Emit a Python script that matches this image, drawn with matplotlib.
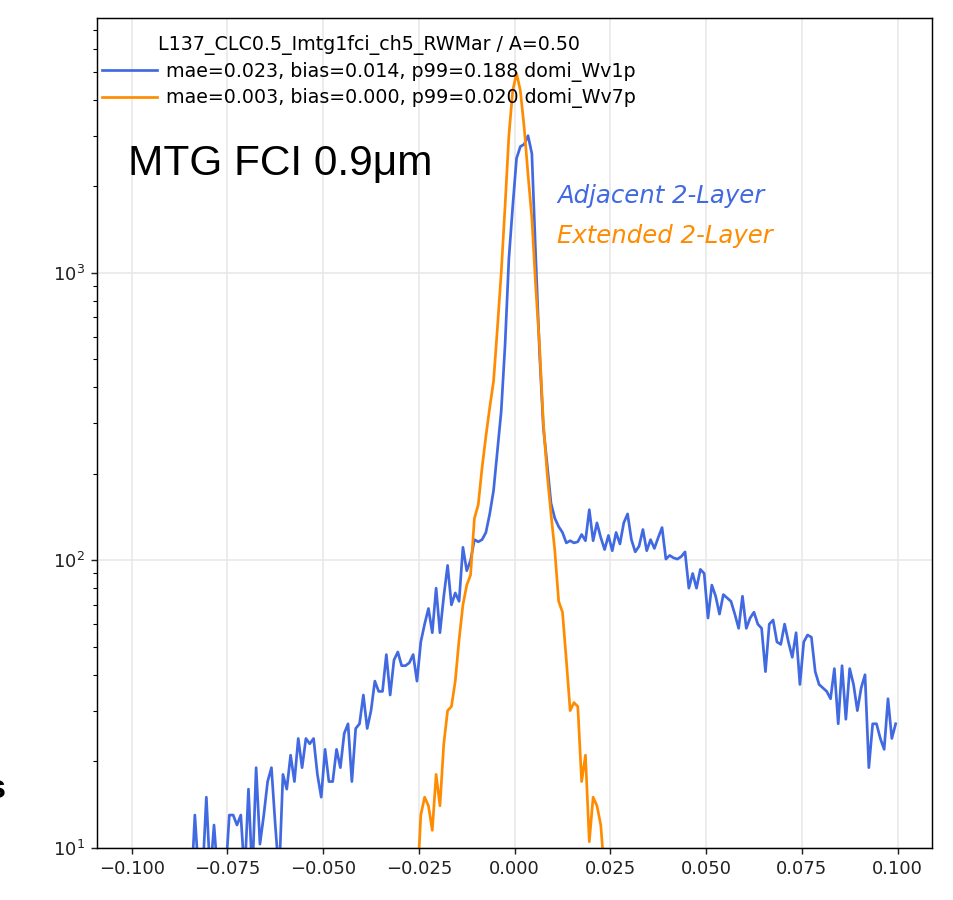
import numpy as np
import matplotlib.pyplot as plt

# bin centres of the histogram (-0.0995 ... 0.0995, step 0.001)
x = np.arange(200) * 0.001 - 0.0995

blue = [
    4, 5, 3, 6, 4, 5, 3, 7, 5, 6,
    4, 7, 5, 6, 5, 7, 13, 8, 8, 15,
    8, 12, 8, 7, 8, 13, 13, 12, 13, 8,
    16, 8, 19, 10.3, 13, 17, 19, 12, 8, 18,
    16, 21, 17, 24, 19, 24, 23, 24, 18, 15,
    22, 17, 17, 22, 19, 25, 27, 17, 26, 27,
    34, 26, 30, 38, 35, 35, 47, 34, 45, 48,
    43, 43, 44, 47, 38, 52, 60, 68, 56, 80,
    56, 75, 96, 70, 77, 72, 111, 92, 100, 118,
    116, 118, 125, 145, 175, 240, 330, 560, 1120, 1700,
    2500, 2750, 2800, 3000, 2600, 1150, 530, 290, 215, 158,
    140, 131, 125, 115, 117, 115, 116, 123, 117, 150,
    117, 135, 120, 109, 122, 108, 125, 114, 135, 145,
    118, 107, 112, 128, 108, 118, 110, 120, 130, 101,
    104, 102, 101, 103, 107, 80, 90, 80, 93, 90,
    63, 82, 75, 65, 76, 74, 72, 65, 58, 75,
    58, 63, 66, 60, 58, 41, 60, 62, 52, 51,
    60, 52, 46, 56, 37, 52, 55, 54, 41, 37,
    36, 35, 33, 42, 27, 43, 28, 42, 37, 30,
    36, 40, 19, 27, 27, 24, 22, 33, 24, 27,
]

orange = [
    2, 1, 2, 1, 2, 1, 1, 2, 1, 2,
    1, 2, 1, 2, 2, 1, 2, 2, 1, 2,
    2, 1, 2, 2, 3, 2, 2, 3, 2, 2,
    3, 2, 3, 2, 3, 3, 2, 3, 3, 2,
    3, 3, 4, 3, 3, 4, 3, 4, 3, 4,
    4, 3, 4, 4, 5, 4, 4, 5, 4, 5,
    4, 5, 5, 4, 5, 6, 5, 5, 6, 5,
    3, 4, 3, 5, 7, 13, 15, 14, 11.5, 18,
    14, 23, 30, 31, 38, 53, 70, 82, 89, 140,
    156, 210, 270, 340, 420, 640, 1000, 1700, 3000, 4300,
    4950, 4300, 3200, 2200, 1550, 900, 560, 300, 200, 145,
    108, 72, 66, 45, 30, 32, 31, 17, 21, 10.5,
    15, 14, 12, 8, 6, 5, 4, 5, 3, 4,
    3, 4, 3, 3, 2, 3, 2, 3, 2, 2,
    2, 3, 2, 2, 2, 1, 2, 2, 1, 2,
    2, 1, 2, 1, 2, 1, 1, 2, 1, 1,
    1, 2, 1, 1, 1, 2, 1, 1, 1, 1,
    1, 1, 1, 2, 1, 1, 1, 1, 1, 1,
    1, 1, 1, 1, 1, 1, 1, 1, 1, 1,
    1, 1, 1, 1, 1, 1, 1, 1, 1, 1,
]

legend_title = 'L137_CLC0.5_Imtg1fci_ch5_RWMar / A=0.50'
label_blue = 'mae=0.023, bias=0.014, p99=0.188 domi_Wv1p'
label_orange = 'mae=0.003, bias=0.000, p99=0.020 domi_Wv7p'

fig = plt.figure(figsize=(953 / 130, 900 / 130), dpi=130)
ax = fig.add_axes([0.102, 0.058, 0.876, 0.922])

ax.plot(x, blue, color='royalblue', label=label_blue)
ax.plot(x, orange, color='darkorange', label=label_orange)

ax.set_yscale('log')
ax.set_ylim(10, 7700)
ax.set_xlim(-0.109, 0.109)
ax.set_xticks(np.arange(-0.1, 0.101, 0.025))
ax.grid(True, color='#e8e8e8', linewidth=0.9)
ax.tick_params(colors='#222222')

ax.legend(title=legend_title, loc='upper left', bbox_to_anchor=(-0.015, 1.0),
          frameon=False, fontsize=10.5, title_fontsize=10.5,
          handlelength=2.9, handletextpad=0.5, labelspacing=0.35)

ax.text(0.037, 0.811, 'MTG FCI 0.9μm', transform=ax.transAxes,
        fontsize=23.5, family='Liberation Sans', color='black')
ax.text(0.551, 0.777, 'Adjacent 2-Layer', transform=ax.transAxes,
        fontsize=13.5, style='italic', color='royalblue')
ax.text(0.551, 0.729, 'Extended 2-Layer', transform=ax.transAxes,
        fontsize=13.5, style='italic', color='darkorange')

# piece of the neighbouring slide text, cut by the left edge
fig.text(-0.014, 0.113, 's', fontsize=19, fontweight='bold',
         family='Liberation Sans', color='black')

fig.savefig('out.png', dpi=130)
